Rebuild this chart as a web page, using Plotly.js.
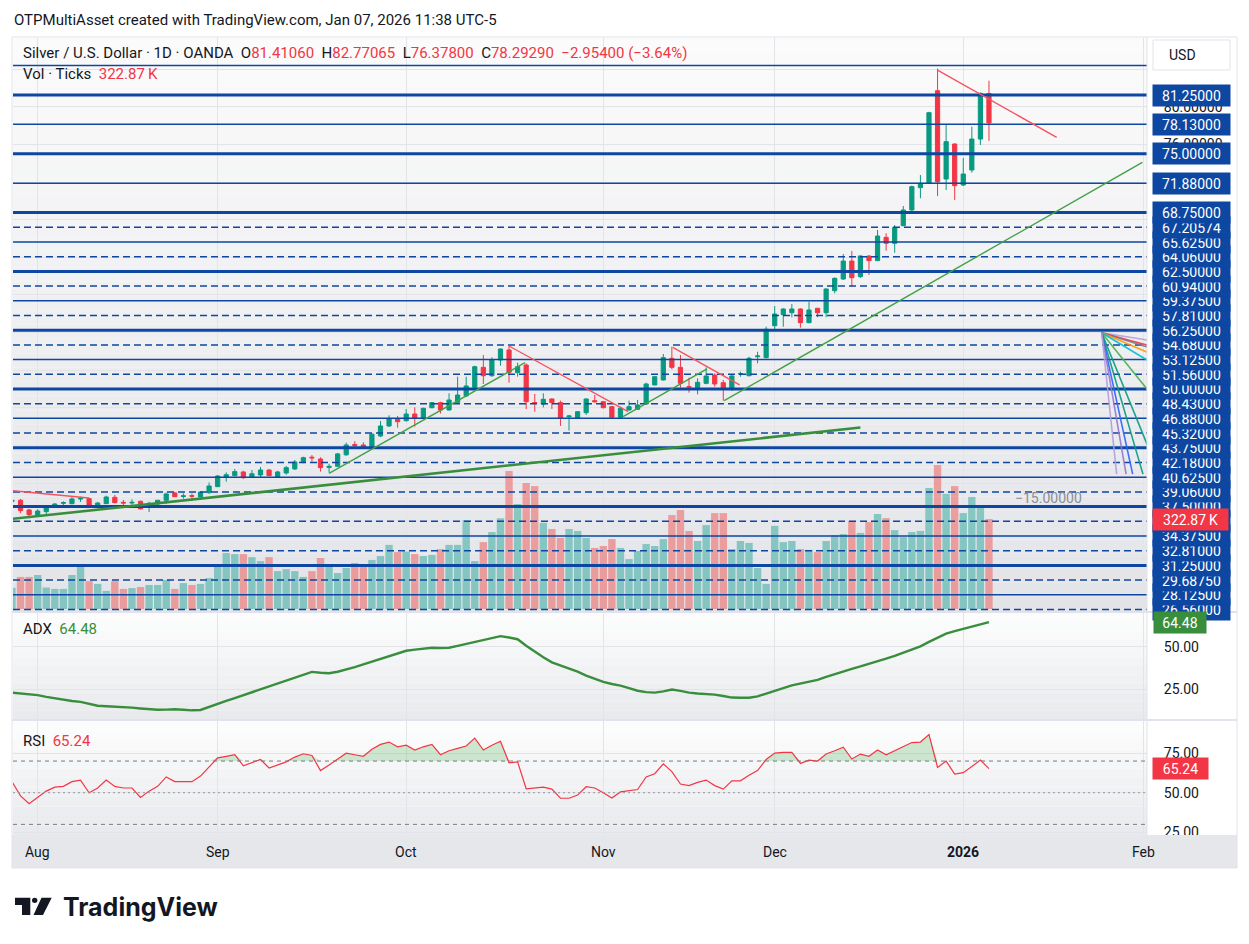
<!DOCTYPE html>
<html><head><meta charset="utf-8">
<script src="https://cdn.plot.ly/plotly-3.0.1.min.js"></script>
<style>html,body{margin:0;padding:0;background:#fff;}#chart{width:1249px;height:944px;}</style>
</head><body><div id="chart"></div>
<script>
// ---------------- DATA ----------------
const firstDay = '2025-07-29';
const holidays = ['2025-12-25', '2026-01-01'];
const barCount = 115;            // bars -3 .. 111 (index 0 = Aug 01 2025)
const firstIndex = -3;

const open = [
 38.05,38.17,37.14,36.57,36.96,37.42,37.85,37.81,38.30,38.34,
 37.46,37.81,38.49,37.95,37.88,38.06,37.42,37.77,38.17,38.95,
 38.57,38.66,38.52,38.98,39.62,40.65,40.79,41.18,40.60,40.86,
 41.39,40.65,41.07,41.50,42.20,42.75,42.56,41.65,41.78,43.00,
 44.10,44.05,43.87,45.00,46.07,46.84,46.63,47.34,46.88,48.01,
 48.55,47.77,48.58,49.26,50.18,52.30,51.41,53.08,54.15,51.73,
 52.55,48.55,48.40,48.94,48.55,47.05,46.88,47.48,48.76,48.65,
 48.12,46.99,47.77,47.84,48.40,50.43,50.96,53.26,52.30,50.25,
 50.14,50.60,51.49,50.67,49.96,51.59,51.41,53.43,53.33,56.73,
 57.90,58.11,58.50,57.05,58.58,58.11,60.45,61.69,63.60,61.94,
 64.14,63.64,66.12,65.49,67.36,69.03,71.40,71.86,81.71,72.32,
 76.04,71.68,73.28,76.57,81.41060];
const high = [
 38.25,38.30,37.25,37.21,37.50,37.88,38.06,38.49,38.55,38.45,
 38.00,38.66,38.73,38.20,38.27,38.13,38.00,38.20,38.98,39.05,
 38.91,38.90,39.10,40.06,40.86,41.14,41.50,41.30,41.39,41.71,
 41.45,41.30,41.82,42.45,42.80,42.98,42.74,42.05,43.20,44.30,
 44.45,44.35,45.30,46.60,47.20,47.13,47.87,48.05,48.00,48.60,
 48.65,49.54,51.31,51.31,52.48,53.61,53.37,54.30,54.57,52.80,
 52.73,49.47,49.54,48.99,48.76,47.24,47.60,49.00,49.36,48.70,
 48.20,48.12,48.76,48.83,50.67,51.35,53.72,54.50,53.61,51.20,
 51.13,52.30,51.67,50.96,51.49,51.84,53.43,53.96,56.62,58.82,
 58.58,59.03,58.58,59.27,58.62,60.70,61.87,64.35,64.67,64.20,
 64.20,66.90,66.55,67.43,69.45,71.61,72.75,79.47,84.06,78.06,
 76.12,74.55,77.88,81.53,82.77065];
const low = [
 37.95,36.79,36.26,36.43,36.71,37.40,37.67,37.74,37.99,37.55,
 37.40,37.78,37.85,37.67,37.70,37.20,36.93,37.60,37.80,38.52,
 38.34,38.13,38.48,38.84,39.58,40.15,40.70,40.45,40.55,40.60,
 40.75,40.60,40.89,41.39,42.10,42.27,41.22,41.10,41.75,42.90,
 43.75,43.70,43.80,44.90,45.95,45.89,46.55,46.00,46.80,47.95,
 47.40,47.70,48.50,49.20,50.07,50.53,51.30,52.48,50.67,51.31,
 47.87,47.59,48.05,47.87,46.07,45.57,46.80,47.24,48.55,47.95,
 46.95,46.84,47.70,47.80,48.35,50.40,50.90,52.09,50.14,49.61,
 49.44,50.50,50.25,48.76,49.79,51.31,51.35,52.73,53.25,56.27,
 56.62,57.62,56.52,56.98,57.62,57.62,60.17,61.59,60.87,61.80,
 62.12,63.60,64.70,64.49,67.30,68.78,70.27,71.80,70.51,71.15,
 70.09,71.58,73.00,75.94,76.37800];
const close = [
 38.17,37.07,36.64,37.03,37.42,37.77,37.92,38.31,38.40,37.60,
 37.88,38.52,37.92,37.88,37.95,37.25,37.85,38.17,38.84,38.55,
 38.64,38.60,39.05,39.69,40.75,40.89,41.22,40.57,40.99,41.39,
 40.79,41.18,41.64,42.24,42.70,42.68,41.64,41.78,43.10,44.05,
 44.00,43.85,45.19,46.07,46.84,46.52,47.34,46.90,47.95,48.55,
 47.77,48.83,49.36,50.32,52.37,51.41,53.08,54.25,51.77,52.37,
 48.65,48.50,48.90,48.55,46.88,47.13,47.59,48.94,48.65,48.01,
 46.99,47.95,48.12,48.30,50.53,51.31,53.33,52.30,50.60,50.21,
 50.71,51.38,50.53,49.96,51.38,51.63,53.26,53.51,56.35,57.97,
 58.50,58.50,57.05,58.40,58.11,60.63,61.76,63.60,61.83,64.14,
 63.64,66.26,65.49,67.15,69.03,71.51,71.86,79.37,72.04,76.29,
 71.61,72.85,76.57,81.42,78.29290];
const lastChange = '\u22122.95400', lastChangePct = '\u22123.64%';
const volumeK = [
 76,115,115,122,77,72,72,122,151,100,
 90,65,100,72,75,79,86,86,104,72,
 93,86,90,111,158,201,197,197,186,172,
 186,136,143,136,115,136,183,151,129,147,
 165,151,176,190,230,204,206,197,190,194,
 215,230,230,319,172,240,276,326,495,377,
 452,441,309,287,255,287,280,255,219,226,
 251,219,179,208,233,226,251,337,355,280,
 244,301,344,344,215,244,237,147,90,298,
 240,244,215,212,204,244,265,269,316,273,
 312,341,326,283,258,276,280,434,517,413,
 441,344,402,366,322.87];
const adx = [
 23.0,22.6,22.0,21.5,20.5,19.6,18.6,18.1,17.6,16.5,
 15.3,15.0,14.8,14.6,14.2,13.7,13.1,12.9,13.0,13.2,
 12.9,12.6,12.8,14.7,16.4,18.1,19.8,21.5,23.3,25.0,
 26.6,28.4,30.0,31.9,33.7,35.2,34.7,34.4,35.3,36.5,
 38.0,39.6,41.2,43.0,44.6,46.1,47.6,48.3,48.9,49.4,
 49.2,49.4,50.5,51.6,52.8,54.1,55.2,56.2,55.4,54.4,
 50.6,47.0,43.8,40.8,39.1,37.4,35.3,33.0,31.0,29.3,
 28.1,27.1,25.6,24.1,23.3,23.0,23.7,24.8,24.0,23.0,
 22.5,22.2,21.8,21.0,20.1,20.0,20.0,20.8,22.3,23.9,
 25.6,27.3,28.5,29.4,30.5,32.2,33.9,35.6,37.0,38.4,
 39.8,41.4,43.0,44.6,46.4,48.3,50.2,52.8,55.4,57.7,
 59.2,60.6,61.8,63.1,64.48];
const rsi = [
 57,48,43,47,51,53.5,54,57,58,50,
 53,58,54,53,53,47,51,54,60,57,
 57,57,60.5,66,72,73,74,67,69,71,
 65.6,67.5,69.5,72.5,74.6,73.5,64,67.5,71,75,
 74,73,77.5,80.5,82,79,80,77,79,80.5,
 74,76.5,78,79.5,84.5,77,80,82.5,68.9,69.5,
 52.5,52.8,53.5,52.3,46.5,46.5,48.5,53.8,53,50,
 46.6,50.5,51.2,52,60,62,68.3,63.3,55.5,54.5,
 56.5,58,54.5,52.3,57.5,57.5,61,64,71,75,
 75.5,75.5,68.5,70.6,70,74.5,76.5,78.8,71.3,74.4,
 73,77,74,76.5,79,81.7,82,86.7,66,70,
 61.7,62.7,66.5,70.6,65.24];

// user horizontal levels
const levelsThick  = [81.25,75.00,68.75,62.50,56.25,50.00,43.75,37.50,31.25];
const levelsThin   = [84.375,78.13,71.88,65.625,59.375,53.125,46.88,40.625,34.375,28.125];
const levelsDashed = [67.20574,64.06,60.94,57.81,54.68,51.56,48.43,45.32,42.18,39.06,35.94,32.81,29.6875,26.56];
const levelLabels  = [81.25,78.13,75.00,71.88,68.75,67.20574,65.625,64.06,62.50,60.94,59.375,57.81,56.25,54.68,
                      53.125,51.56,50.00,48.43,46.88,45.32,43.75,42.18,40.625,39.06,37.50,35.94,34.375,32.81,31.25,29.6875,28.125,26.56];
// trend lines [barIndex0, price0, barIndex1, price1]
const trendRed   = [[-2.88,39.19,6.0,38.41],[55.0,54.57,68.9,47.59],[74.1,54.43,81.9,50.43],[105.0,83.9,118.9,76.75]];
const trendGreen = [[34.0,41.04,56.86,52.8],[68.3,47.06,78.1,52.13],[80.1,48.76,128.9,74.08]];
const trendGreenLong = [[-2.88,36.2,96.0,45.9]];
// speed-resistance fan: origin and ends
const fanOrigin = [124.15,55.98];
const fanEnds = [[129.5,55.2],[129.5,54.65],[129.5,54.45],[129.5,53.9],[129.5,53.05],[129.5,49.93],[129.5,44.0],[128.97,40.95],[127.77,40.95],[127.0,40.95],[125.9,40.95]];
const fanColors = ['#b39ddb','#f23645','#787b86','#ff9800','#00bcd4','#4caf50','#089981','#089981','#2962ff','#9575cd','#b39ddb'];
const fanLabel = {text:'\u221215.00000', x:118.0, y:38.41};
const priceGrid = [28,32,36,40,44,48,52,56,60,64,68,72,76,80,84];

// ---------------- HELPERS ----------------
function tradingDays(start, n, hol){
  const out=[]; const d=new Date(start+'T00:00:00Z');
  while(out.length<n){
    const wd=d.getUTCDay(); const s=d.toISOString().slice(0,10);
    if(wd!==0&&wd!==6&&hol.indexOf(s)<0) out.push(s);
    d.setUTCDate(d.getUTCDate()+1);
  }
  return out;
}
const allDays = tradingDays(firstDay, barCount+25, holidays);
const idx = allDays.slice(0,barCount).map((_,k)=>k+firstIndex);
const monthNames=['Jan','Feb','Mar','Apr','May','Jun','Jul','Aug','Sep','Oct','Nov','Dec'];
const tickIdx=[], tickTxt=[];
for(let k=1;k<allDays.length;k++){
  if(allDays[k].slice(5,7)!==allDays[k-1].slice(5,7)){
    const m=+allDays[k].slice(5,7);
    tickIdx.push(k+firstIndex);
    tickTxt.push(m===1?'<b>'+allDays[k].slice(0,4)+'</b>':monthNames[m-1]);
  }
}
const xRange=[-2.88,129.44];
const px2x = x => (x-13)/1134;
const px2y = y => (835-y)/797;
const FONT='Roboto, "Liberation Sans", Arial, sans-serif';
const BLUE='#0d47a1', UP='#089981', DOWN='#f23645';
const last = a => a[a.length-1];

// ---------------- TRACES ----------------
const traces=[];
traces.push({type:'bar', x:idx, y:volumeK, yaxis:'y', xaxis:'x', width:0.86,
  marker:{color:close.map((c,k)=>c>=open[k]?'rgba(38,166,154,0.5)':'rgba(239,83,80,0.5)'), line:{width:0}},
  hoverinfo:'skip'});
function levelTrace(levels, w, dash){
  const X=[],Y=[]; levels.forEach(l=>{X.push(xRange[0],xRange[1],null);Y.push(l,l,null);});
  return {type:'scatter',mode:'lines',x:X,y:Y,yaxis:'y2',line:{color:BLUE,width:w,dash:dash},hoverinfo:'skip'};
}
traces.push({type:'candlestick', x:idx, open:open, high:high, low:low, close:close, yaxis:'y2', whiskerwidth:0,
  increasing:{line:{color:UP,width:1},fillcolor:UP}, decreasing:{line:{color:DOWN,width:1},fillcolor:DOWN}, hoverinfo:'skip'});
traces.push(levelTrace(levelsDashed,1.5,'7px,4px'));
traces.push(levelTrace(levelsThin,1.5,'solid'));
traces.push(levelTrace(levelsThick,3,'solid'));
function segTrace(segs,color,w){
  const X=[],Y=[]; segs.forEach(s=>{X.push(s[0],s[2],null);Y.push(s[1],s[3],null);});
  return {type:'scatter',mode:'lines',x:X,y:Y,yaxis:'y2',line:{color:color,width:w},hoverinfo:'skip'};
}
traces.push(segTrace(trendGreenLong,'#388e3c',2.6));
traces.push(segTrace(trendGreen,'#43a047',1.4));
traces.push(segTrace(trendRed,'#f7525f',1.4));
fanEnds.forEach((e,k)=>traces.push({type:'scatter',mode:'lines',x:[fanOrigin[0],e[0]],y:[fanOrigin[1],e[1]],yaxis:'y2',
  line:{color:fanColors[k],width:1.6},opacity:0.9,hoverinfo:'skip'}));
traces.push({type:'scatter',mode:'lines',x:idx,y:adx,yaxis:'y3',line:{color:'#388e3c',width:2.4},hoverinfo:'skip'});
traces.push({type:'scatter',mode:'lines',x:idx,y:rsi.map(()=>70),yaxis:'y4',line:{width:0,color:'rgba(0,0,0,0)'},hoverinfo:'skip'});
traces.push({type:'scatter',mode:'lines',x:idx,y:rsi.map(v=>Math.max(v,70)),yaxis:'y4',fill:'tonexty',
  fillcolor:'rgba(76,175,80,0.25)',line:{width:0,color:'rgba(0,0,0,0)'},hoverinfo:'skip'});
traces.push({type:'scatter',mode:'lines',x:idx,y:rsi,yaxis:'y4',line:{color:'#f23645',width:1.2},hoverinfo:'skip'});

// ---------------- SHAPES ----------------
const shapes=[];
function lerpColor(a,b,t){return 'rgb('+a.map((v,k)=>Math.round(v+(b[k]-v)*t)).join(',')+')';}
function gradient(y0,y1,c0,c1,n){
  for(let k=0;k<n;k++){
    const a=y0+(y1-y0)*k/n, b=y0+(y1-y0)*(k+1)/n;
    shapes.push({type:'rect',xref:'paper',yref:'paper',x0:0,x1:1,y0:px2y(b),y1:px2y(a),
      fillcolor:lerpColor(c0,c1,(k+0.5)/n),line:{width:0},layer:'below'});
  }
}
gradient(38,611,[251,251,251],[227,228,232],40);
gradient(613,719,[253,253,253],[232,233,236],12);
gradient(721,835,[253,253,253],[232,233,236],12);
shapes.push({type:'rect',xref:'paper',yref:'paper',x0:px2x(12),x1:px2x(1237),y0:px2y(868),y1:px2y(835),
  fillcolor:'#e6e7ea',line:{width:0},layer:'above'});
[612,720].forEach(y=>shapes.push({type:'line',xref:'paper',yref:'paper',x0:px2x(12),x1:px2x(1237),y0:px2y(y),y1:px2y(y),
  line:{color:'#e0e3eb',width:2},layer:'above'}));
shapes.push({type:'line',xref:'paper',yref:'paper',x0:1,x1:1,y0:px2y(835),y1:px2y(37),line:{color:'#e0e3eb',width:1},layer:'above'});
shapes.push({type:'rect',xref:'paper',yref:'paper',x0:px2x(12),x1:px2x(1237),y0:px2y(868),y1:px2y(37),
  line:{color:'#e0e3eb',width:1},fillcolor:'rgba(0,0,0,0)',layer:'above'});
[[70,'dash'],[30,'dash'],[50,'dot']].forEach(b=>shapes.push({type:'line',xref:'paper',yref:'y4',x0:0,x1:1,y0:b[0],y1:b[0],
  line:{color:b[1]==='dot'?'#9598a1':'#787b86',width:1,dash:b[1]==='dot'?'2px,3px':'4px,4px'},layer:'above'}));
shapes.push({type:'rect',xref:'paper',yref:'paper',x0:px2x(1153),x1:px2x(1230),y0:px2y(70),y1:px2y(40),
  line:{color:'#e0e3eb',width:1},fillcolor:'#fff',layer:'above'});
function P(x,y){return px2x(x).toFixed(5)+','+px2y(y).toFixed(5);}
shapes.push({type:'path',xref:'paper',yref:'paper',path:'M'+P(15,897.7)+' L'+P(30.3,897.7)+' L'+P(30.3,915)+' L'+P(22,915)+' L'+P(22,905)+' L'+P(15,905)+' Z',
  fillcolor:'#131722',line:{width:0}});
shapes.push({type:'circle',xref:'paper',yref:'paper',x0:px2x(32),x1:px2x(37.4),y0:px2y(903),y1:px2y(897.7),fillcolor:'#131722',line:{width:0}});
shapes.push({type:'path',xref:'paper',yref:'paper',path:'M'+P(41.5,897.7)+' L'+P(51.7,897.7)+' L'+P(43,915)+' L'+P(33.5,915)+' Z',
  fillcolor:'#131722',line:{width:0}});

// ---------------- ANNOTATIONS ----------------
const ann=[];
const red=s=>'<span style="color:#f23645">'+s+'</span>';
const TXT={family:FONT,size:15,color:'#131722'};
ann.push({xref:'paper',yref:'paper',x:px2x(12),y:px2y(20),xanchor:'left',yanchor:'middle',showarrow:false,
  text:'OTPMultiAsset created with TradingView.com, Jan 07, 2026 11:38 UTC-5',font:TXT});
ann.push({xref:'paper',yref:'paper',x:px2x(21),y:px2y(53),xanchor:'left',yanchor:'middle',showarrow:false,
  text:'Silver / U.S. Dollar \u00b7 1D \u00b7 OANDA  O'+red(last(open).toFixed(5))+'  H'+red(last(high).toFixed(5))+
  '  L'+red(last(low).toFixed(5))+'  C'+red(last(close).toFixed(5))+'  '+red(lastChange+' ('+lastChangePct+')'),font:TXT});
ann.push({xref:'paper',yref:'paper',x:px2x(21),y:px2y(74),xanchor:'left',yanchor:'middle',showarrow:false,
  text:'Vol \u00b7 Ticks  '+red(last(volumeK).toFixed(2)+'\u2009K'),font:TXT});
ann.push({xref:'paper',yref:'paper',x:px2x(21),y:px2y(629),xanchor:'left',yanchor:'middle',showarrow:false,
  text:'ADX  <span style="color:#388e3c">'+last(adx).toFixed(2)+'</span>',font:TXT});
ann.push({xref:'paper',yref:'paper',x:px2x(21),y:px2y(741),xanchor:'left',yanchor:'middle',showarrow:false,
  text:'RSI  '+red(last(rsi).toFixed(2)),font:TXT});
ann.push({xref:'paper',yref:'paper',x:px2x(1167),y:px2y(55),xanchor:'left',yanchor:'middle',showarrow:false,
  text:'USD',font:{family:FONT,size:14,color:'#131722'}});
levelLabels.slice().sort((a,b)=>a-b).forEach(l=>ann.push({xref:'paper',yref:'y2',x:px2x(1152),y:l,xanchor:'left',yanchor:'middle',
  showarrow:false,text:l.toFixed(5),bgcolor:BLUE,width:77,height:21,borderpad:0,align:'center',
  font:{family:FONT,size:14,color:'#ffffff'}}));
ann.push({xref:'paper',yref:'y',x:px2x(1152),y:last(volumeK),xanchor:'left',yanchor:'middle',showarrow:false,
  text:last(volumeK).toFixed(2)+'\u2009K',bgcolor:'#f23645',width:75,height:21,borderpad:0,
  font:{family:FONT,size:14,color:'#fff'}});
ann.push({xref:'paper',yref:'y3',x:px2x(1153),y:last(adx),xanchor:'left',yanchor:'middle',showarrow:false,
  text:last(adx).toFixed(2),bgcolor:'#388e3c',width:52,height:21,borderpad:0,font:{family:FONT,size:14,color:'#fff'}});
ann.push({xref:'paper',yref:'y4',x:px2x(1152),y:last(rsi),xanchor:'left',yanchor:'middle',showarrow:false,
  text:last(rsi).toFixed(2),bgcolor:'#f23645',width:55,height:21,borderpad:0,font:{family:FONT,size:14,color:'#fff'}});
ann.push({xref:'x',yref:'y2',x:fanLabel.x,y:fanLabel.y,showarrow:false,text:fanLabel.text,font:{family:FONT,size:14,color:'#8a8d96'}});
tickIdx.forEach((t,k)=>ann.push({xref:'x',yref:'paper',x:t,y:px2y(852),showarrow:false,xanchor:'center',yanchor:'middle',
  text:tickTxt[k],font:{family:FONT,size:14,color:'#131722'}}));
ann.push({xref:'paper',yref:'paper',x:px2x(61),y:px2y(907),xanchor:'left',yanchor:'middle',showarrow:false,
  text:'TradingView',font:{family:'Inter, Roboto, sans-serif',size:25,color:'#131722',weight:700}});

// ---------------- LAYOUT ----------------
const axisTick={ticks:'outside',ticklen:13,tickcolor:'rgba(0,0,0,0)',tickfont:{family:FONT,size:14,color:'#131722'}};
const layout={
  width:1249,height:944,margin:{l:13,r:102,t:38,b:109},paper_bgcolor:'#ffffff',plot_bgcolor:'rgba(0,0,0,0)',
  showlegend:false,hovermode:false,dragmode:false,font:{family:FONT},
  xaxis:{range:xRange,anchor:'free',position:0,tickvals:tickIdx,showticklabels:false,showgrid:true,gridcolor:'#e2e4ea',
    zeroline:false,showline:false,fixedrange:true,ticks:''},
  yaxis:{domain:[0.28105,1],range:[-7.2,2048.5],visible:false,fixedrange:true},
  yaxis2:Object.assign({overlaying:'y',side:'right',anchor:'x',range:[26.40,87.31],tickvals:priceGrid,
    ticktext:priceGrid.map(v=>v===84?'':v.toFixed(5)),showgrid:true,gridcolor:'#e2e4ea',zeroline:false,fixedrange:true},axisTick),
  yaxis3:Object.assign({domain:[0.14555,0.27854],anchor:'x',side:'right',range:[7.5,69.8],tickvals:[25,50],ticktext:['25.00','50.00'],
    showgrid:true,gridcolor:'#e2e4ea',zeroline:false,fixedrange:true},axisTick),
  yaxis4:Object.assign({domain:[0,0.14304],anchor:'x',side:'right',range:[23.3,95.3],tickvals:[25,50,75],ticktext:['25.00','50.00','75.00'],
    showgrid:true,gridcolor:'#e2e4ea',zeroline:false,fixedrange:true},axisTick),
  shapes:shapes,annotations:ann
};
try { Plotly.newPlot('chart',traces,layout,{displayModeBar:false,staticPlot:true}).catch(function(){}); } catch(e) {}
</script></body></html>
